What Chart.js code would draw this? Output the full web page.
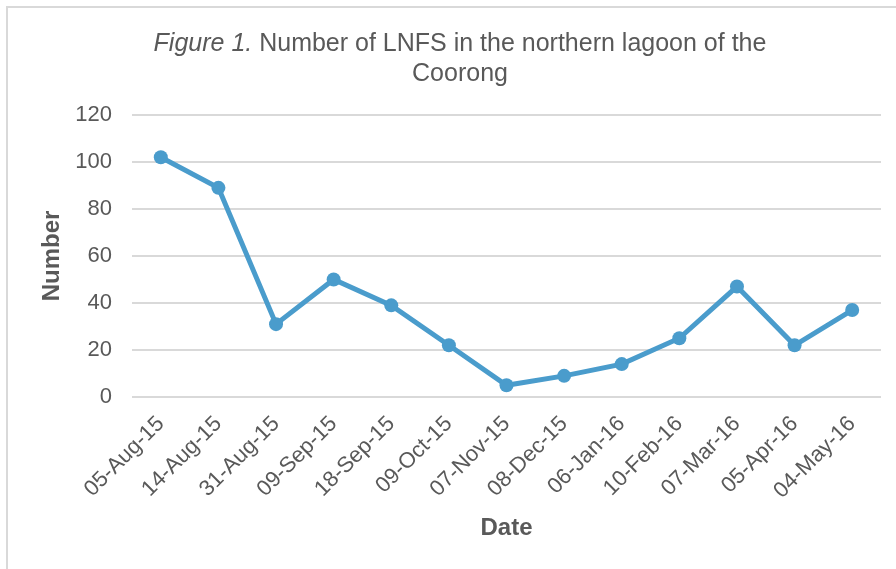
<!DOCTYPE html>
<html><head><meta charset="utf-8">
<script src="https://cdn.jsdelivr.net/npm/chart.js@4/dist/chart.umd.min.js"></script>
<style>
html,body{margin:0;padding:0;background:#fff;}
#wrap{position:absolute;left:6px;top:6px;width:920px;height:600px;border-left:2px solid #d9d9d9;border-top:2px solid #d9d9d9;}
</style></head><body>
<div id="wrap"></div>
<canvas id="c" width="896" height="569" style="position:absolute;left:0;top:0;width:896px;height:569px"></canvas>
<script>
const categories = ["05-Aug-15","14-Aug-15","31-Aug-15","09-Sep-15","18-Sep-15","09-Oct-15","07-Nov-15","08-Dec-15","06-Jan-16","10-Feb-16","07-Mar-16","05-Apr-16","04-May-16"];
const counts = [102, 89, 31, 50, 39, 22, 5, 9, 14, 25, 47, 22, 37];
const titleItalic = "Figure 1.";
const titleRest = " Number of LNFS in the northern lagoon of the";
const titleLine2 = "Coorong";
const yAxisTitle = "Number";
const xAxisTitle = "Date";

const FONT = "'Liberation Sans', Arial, sans-serif";
const GREY = "#595959";

const titlePlugin = {
  id: 'mixedTitle',
  afterDraw(chart) {
    const ctx = chart.ctx;
    ctx.save();
    ctx.fillStyle = GREY;
    ctx.textBaseline = 'alphabetic';
    const cx = 460;
    ctx.font = "italic 25px " + FONT;
    const w1 = ctx.measureText(titleItalic).width;
    ctx.font = "25px " + FONT;
    const w2 = ctx.measureText(titleRest).width;
    let x = cx - (w1 + w2) / 2;
    ctx.textAlign = 'left';
    ctx.font = "italic 25px " + FONT;
    ctx.fillText(titleItalic, x, 51);
    ctx.font = "25px " + FONT;
    ctx.fillText(titleRest, x + w1, 51);
    ctx.textAlign = 'center';
    ctx.fillText(titleLine2, cx, 81);
    ctx.restore();
  }
};

new Chart(document.getElementById('c'), {
  type: 'line',
  data: {
    labels: categories,
    datasets: [{
      data: counts,
      borderColor: '#4a9ccc',
      backgroundColor: '#4a9ccc',
      borderWidth: 5,
      pointRadius: 7,
      pointHoverRadius: 7,
      pointBorderWidth: 0,
      tension: 0,
      fill: false
    }]
  },
  options: {
    responsive: false,
    animation: false,
    devicePixelRatio: 1,
    layout: { padding: { left: 38, right: 15, top: 115, bottom: 26 } },
    plugins: { legend: { display: false }, title: { display: false }, tooltip: { enabled: false } },
    scales: {
      x: {
        offset: true,
        grid: { display: false, drawTicks: false },
        border: { display: false },
        ticks: { color: GREY, font: { family: FONT, size: 22 }, minRotation: 45, maxRotation: 45, padding: 14, autoSkip: false },
        title: { display: true, text: xAxisTitle, color: GREY, font: { family: FONT, size: 24, weight: 'bold' }, padding: { top: 0, bottom: 0 } },
        afterFit(scale) { scale.height = 146; }
      },
      y: {
        min: 0, max: 120,
        ticks: { stepSize: 20, color: GREY, font: { family: FONT, size: 22 }, padding: 20 },
        grid: { color: '#d9d9d9', lineWidth: 2, drawTicks: false },
        border: { display: false },
        title: { display: true, text: yAxisTitle, color: GREY, font: { family: FONT, size: 24, weight: 'bold' }, padding: { top: 0, bottom: 0 } },
        afterFit(scale) { scale.width = 94; }
      }
    }
  },
  plugins: [titlePlugin]
});
</script>
</body></html>
